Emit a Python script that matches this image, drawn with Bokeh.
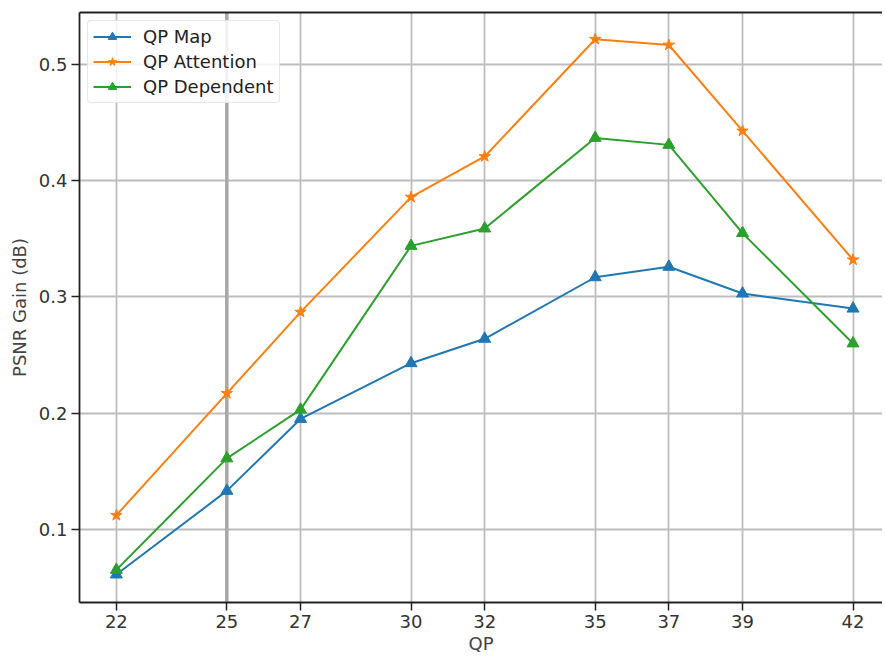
from bokeh.plotting import figure
from bokeh.models import FixedTicker, Range1d, Legend, LegendItem, LinearAxis, Span
from bokeh.embed import file_html
from bokeh.resources import INLINE

qp = [22, 25, 27, 30, 32, 35, 37, 39, 42]
qp_map = [0.061, 0.133, 0.195, 0.243, 0.264, 0.317, 0.326, 0.303, 0.290]
qp_attention = [0.112, 0.217, 0.287, 0.386, 0.421, 0.522, 0.517, 0.443, 0.332]
qp_dependent = [0.065, 0.161, 0.203, 0.344, 0.359, 0.437, 0.431, 0.355, 0.260]
y_ticks = [0.1, 0.2, 0.3, 0.4, 0.5]

FONT = "DejaVu Sans"
FS = "18px"

p = figure(width=882, height=656, output_backend="svg", toolbar_location=None,
           x_range=Range1d(21, 42.8), y_range=Range1d(0.0369, 0.545),
           min_border_left=79, min_border_right=0, min_border_top=12, min_border_bottom=51)
p.outline_line_color = None
p.background_fill_color = "white"

for ax in (p.xaxis[0], p.yaxis[0]):
    ax.axis_line_color = "#222222"
    ax.axis_line_width = 1.8
    ax.major_tick_line_color = "#222222"
    ax.major_tick_line_width = 1.5
    ax.major_tick_out = 8
    ax.major_tick_in = 0
    ax.minor_tick_line_color = None
    ax.major_label_text_font = FONT
    ax.major_label_text_font_size = FS
    ax.major_label_text_color = "#333333"
    ax.axis_label_text_font = FONT
    ax.axis_label_text_font_size = FS
    ax.axis_label_text_font_style = "normal"
    ax.axis_label_text_color = "#444444"

p.xaxis[0].ticker = FixedTicker(ticks=qp)
p.yaxis[0].ticker = FixedTicker(ticks=y_ticks)
p.xaxis[0].axis_label = "QP"
p.yaxis[0].axis_label = "PSNR Gain (dB)"
p.xaxis[0].major_label_standoff = 4
p.xaxis[0].axis_label_standoff = 2
p.yaxis[0].major_label_standoff = 4
p.yaxis[0].axis_label_standoff = 6

top = LinearAxis(ticker=FixedTicker(ticks=[]), axis_line_color="#222222", axis_line_width=1.8,
                 major_label_text_font_size="0px", major_tick_line_color=None,
                 minor_tick_line_color=None)
p.add_layout(top, "above")

p.xgrid.ticker = FixedTicker(ticks=qp)
p.ygrid.ticker = FixedTicker(ticks=y_ticks)
p.grid.grid_line_color = "#bdbdbd"
p.grid.grid_line_width = 1.8

p.add_layout(Span(location=qp[1], dimension="height", line_color="#a8a8a8", line_width=3.5, level="underlay"))

c_map, c_att, c_dep = "#1f77b4", "#ff7f0e", "#2ca02c"

l1 = p.line(qp, qp_map, line_color=c_map, line_width=2)
m1 = p.scatter(qp, qp_map, marker="triangle", size=12, fill_color=c_map, line_color=c_map)
l2 = p.line(qp, qp_attention, line_color=c_att, line_width=2)
m2 = p.scatter(qp, qp_attention, marker="star", size=12, fill_color=c_att, line_color=c_att)
l3 = p.line(qp, qp_dependent, line_color=c_dep, line_width=2)
m3 = p.scatter(qp, qp_dependent, marker="triangle", size=12, fill_color=c_dep, line_color=c_dep)

legend = Legend(items=[
    LegendItem(label="QP Map", renderers=[l1, m1]),
    LegendItem(label="QP Attention", renderers=[l2, m2]),
    LegendItem(label="QP Dependent", renderers=[l3, m3]),
], location="top_left")
legend.label_text_font = FONT
legend.label_text_font_size = FS
legend.label_text_color = "#222222"
legend.border_line_color = "#d0d0d0"
legend.border_line_width = 1.5
legend.border_radius = 4
legend.background_fill_alpha = 0.85
legend.margin = 8
legend.padding = 5
legend.spacing = 4
legend.label_height = 21
legend.glyph_height = 21
legend.glyph_width = 38
legend.label_standoff = 12
p.add_layout(legend)

open("out.html", "w").write(file_html(p, INLINE))
